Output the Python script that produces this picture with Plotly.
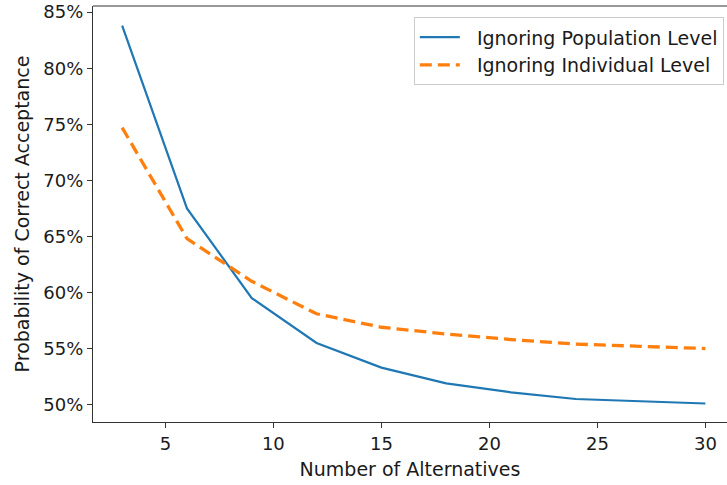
import plotly.graph_objects as go

alternatives = [3, 6, 9, 12, 15, 18, 21, 24, 27, 30]
ignoring_population = [83.8, 67.5, 59.5, 55.5, 53.3, 51.9, 51.1, 50.5, 50.3, 50.1]
ignoring_individual = [74.7, 64.8, 61.0, 58.1, 56.9, 56.3, 55.8, 55.4, 55.2, 55.0]
series_names = ["Ignoring Population Level", "Ignoring Individual Level"]
x_ticks = [5, 10, 15, 20, 25, 30]
y_ticks = [50, 55, 60, 65, 70, 75, 80, 85]
y_tick_labels = [f"{v}%" for v in y_ticks]

FONT = "DejaVu Sans"
FS = 18
FT = 19

fig = go.Figure()
fig.add_trace(go.Scatter(
    x=alternatives, y=ignoring_population, mode="lines",
    name="\u00a0\u00a0" + series_names[0],
    line=dict(color="#1f77b4", width=2.2),
))
fig.add_trace(go.Scatter(
    x=alternatives, y=ignoring_individual, mode="lines",
    name="\u00a0\u00a0" + series_names[1],
    line=dict(color="#ff7f0e", width=3.3, dash="12px,6px"),
))

fig.update_layout(
    width=727, height=485,
    margin=dict(l=93, r=0, t=6, b=63, autoexpand=False),
    paper_bgcolor="white", plot_bgcolor="white",
    font=dict(family=FONT, size=FS, color="#1a1a1a"),
    showlegend=True,
    legend=dict(
        x=0.995, y=0.973, xanchor="right", yanchor="top",
        bgcolor="rgba(255,255,255,0.8)", bordercolor="#cccccc", borderwidth=1,
        font=dict(family=FONT, size=FT, color="#1a1a1a"),
        tracegroupgap=0, itemwidth=40,
    ),
    xaxis=dict(
        range=[1.65, 31.0], tickvals=x_ticks,
        showgrid=False, zeroline=False, automargin=True,
        showline=True, linecolor="#333333", linewidth=1.2,
        ticks="outside", ticklen=5, tickcolor="#333333",
        title=dict(text="Number of Alternatives", font=dict(size=FT), standoff=9),
    ),
    yaxis=dict(
        range=[48.45, 85.55], tickvals=y_ticks, ticktext=y_tick_labels,
        showgrid=False, zeroline=False, automargin=True,
        showline=True, linecolor="#333333", linewidth=1.2,
        ticks="outside", ticklen=5, tickcolor="#333333",
        title=dict(text="Probability of Correct Acceptance", font=dict(size=FT), standoff=8),
    ),
)
# top spine
fig.add_shape(type="line", xref="paper", yref="paper", x0=0, x1=1, y0=1, y1=1,
              line=dict(color="#333333", width=1.2))

fig.write_html("out.html", config={"displayModeBar": False},
               post_script="document.body.style.margin='0';")
